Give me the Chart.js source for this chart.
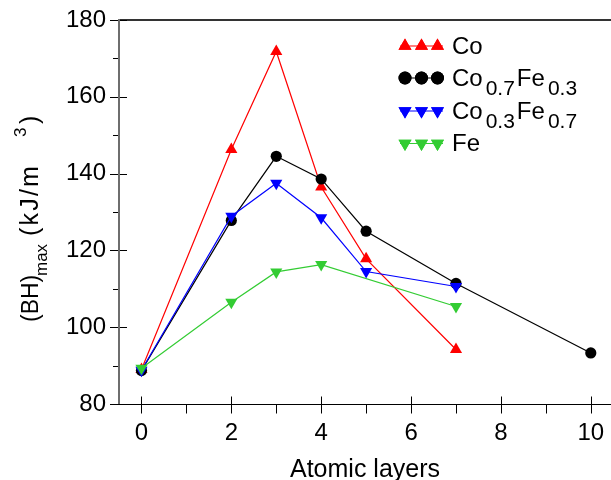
<!DOCTYPE html>
<html>
<head>
<meta charset="utf-8">
<script src="https://cdn.jsdelivr.net/npm/chart.js@4/dist/chart.umd.min.js"></script>
<style>
html,body{margin:0;padding:0;background:#fff;}
#wrap{width:611px;height:480px;position:relative;}
</style>
</head>
<body>
<div id="wrap"><canvas id="c" width="611" height="480"></canvas></div>
<script>
// ---- data ----
const coX = [0, 2, 3, 4, 5, 7];
const coY = [89.0, 146.3, 171.8, 136.5, 117.8, 94.2];
const co7X = [0, 2, 3, 4, 5, 7, 10];
const co7Y = [88.7, 127.8, 144.5, 138.6, 125.0, 111.4, 93.3];
const co3X = [0, 2, 3, 4, 5, 7];
const co3Y = [88.8, 128.9, 137.5, 128.5, 114.5, 110.6];
const feX = [0, 2, 3, 4, 7];
const feY = [89.3, 106.5, 114.4, 116.3, 105.4];
const xTicks = [0, 2, 4, 6, 8, 10];
const xMinor = [1, 3, 5, 7, 9];
const yTicks = [80, 100, 120, 140, 160, 180];
const yMinor = [90, 110, 130, 150, 170];
const xTitle = "Atomic layers";
// legend labels: [text, subscript] pieces
const legendLabels = [
  [["Co", 0]],
  [["Co", 0], ["0.7", 1], ["Fe", 0], ["0.3", 1]],
  [["Co", 0], ["0.3", 1], ["Fe", 0], ["0.7", 1]],
  [["Fe", 0]]
];

const FONT = "'Liberation Sans', Arial, sans-serif";
const pts = (xs, ys) => xs.map((x, i) => ({x: x, y: ys[i]}));

const RED = '#ff0000', BLACK = '#000000', BLUE = '#0000ff', GREEN = '#33cc33';
const styles = [
  {color: RED, style: 'triangle', rot: 0, r: 7, lr: 7.5},
  {color: BLACK, style: 'circle', rot: 0, r: 5.6, lr: 6.5},
  {color: BLUE, style: 'triangle', rot: 180, r: 7, lr: 7.5},
  {color: GREEN, style: 'triangle', rot: 180, r: 7, lr: 7.5}
];

function ds(data, i, order) {
  const s = styles[i];
  return {
    data: data, borderColor: s.color, backgroundColor: s.color, borderWidth: 1.2,
    pointStyle: s.style, rotation: s.rot, pointRadius: s.r, pointHoverRadius: s.r,
    pointBorderWidth: 0, pointBackgroundColor: s.color, pointBorderColor: s.color,
    showLine: true, tension: 0, order: order
  };
}

const axesPlugin = {
  id: 'axesPlugin',
  beforeDatasetsDraw(chart) {
    const ctx = chart.ctx, a = chart.chartArea;
    const xs = chart.scales.x, ys = chart.scales.y;
    ctx.save();
    ctx.strokeStyle = '#333';
    ctx.lineWidth = 2;
    ctx.beginPath(); ctx.moveTo(a.left, a.top); ctx.lineTo(611, a.top); ctx.stroke();
    ctx.strokeStyle = '#000';
    ctx.lineWidth = 1;
    const by = Math.round(a.bottom) + 0.5;
    ctx.beginPath(); ctx.moveTo(a.left - 9, by); ctx.lineTo(611, by); ctx.stroke();
    xTicks.forEach(v => {
      const px = Math.round(xs.getPixelForValue(v)) + 0.5;
      ctx.beginPath(); ctx.moveTo(px, by - 8); ctx.lineTo(px, by + 9); ctx.stroke();
    });
    xMinor.forEach(v => {
      const px = Math.round(xs.getPixelForValue(v)) + 0.5;
      ctx.beginPath(); ctx.moveTo(px, by); ctx.lineTo(px, by + 9); ctx.stroke();
    });
    const lx = a.left;
    yTicks.forEach(v => {
      const py = Math.round(ys.getPixelForValue(v)) + 0.5;
      ctx.beginPath(); ctx.moveTo(lx - 9, py); ctx.lineTo(lx + 8, py); ctx.stroke();
    });
    yMinor.forEach(v => {
      const py = Math.round(ys.getPixelForValue(v)) + 0.5;
      ctx.beginPath(); ctx.moveTo(lx - 6, py); ctx.lineTo(lx, py); ctx.stroke();
    });
    ctx.strokeStyle = '#6e6e6e';
    ctx.lineWidth = 2;
    ctx.beginPath(); ctx.moveTo(lx, a.top - 1); ctx.lineTo(lx, a.bottom); ctx.stroke();
    ctx.restore();
  },
  afterDraw(chart) {
    const ctx = chart.ctx, a = chart.chartArea;
    ctx.save();
    ctx.fillStyle = '#000';
    ctx.font = '25px ' + FONT;
    ctx.textAlign = 'center';
    ctx.textBaseline = 'alphabetic';
    ctx.fillText(xTitle, (a.left + 611) / 2, 477);
    // y title pieces: [text, kind(0 main,1 sub,2 sup), offset along axis, font size, letterSpacing]
    const parts = [["(BH)", 0, 0, 23, 0], ["max", 1, 46, 17, 0], ["(kJ/m", 0, 86, 25, 2.2], ["3", 2, 185, 17, 0], [")", 0, 198, 25, 0]];
    ctx.translate(38, 322);
    ctx.rotate(-Math.PI / 2);
    ctx.textAlign = 'left';
    parts.forEach(p => {
      ctx.font = p[3] + 'px ' + FONT;
      ctx.letterSpacing = p[4] + 'px';
      const dy = p[1] === 1 ? 9 : (p[1] === 2 ? -12 : 0);
      ctx.fillText(p[0], p[2], dy);
    });
    ctx.letterSpacing = '0px';
    ctx.restore();

    ctx.save();
    const rowsY = [46, 78, 111, 143.5];
    const mxs = [405, 421.5, 437.5];
    styles.forEach((s, i) => {
      const y = rowsY[i];
      ctx.strokeStyle = s.color; ctx.lineWidth = 1.2;
      ctx.beginPath(); ctx.moveTo(400, y); ctx.lineTo(443, y); ctx.stroke();
      ctx.fillStyle = s.color;
      mxs.forEach(mx => {
        Chart.helpers.drawPoint(ctx, {pointStyle: s.style, rotation: s.rot, radius: s.lr, borderWidth: 0}, mx, y);
        ctx.fill();
      });
      ctx.fillStyle = '#000';
      ctx.textAlign = 'left'; ctx.textBaseline = 'alphabetic';
      let tx = 452;
      const base = y + 7.5;
      legendLabels[i].forEach(p => {
        if (p[1]) {
          ctx.font = '21px ' + FONT;
          tx += 3;
          ctx.fillText(p[0], tx, base + 9);
          tx += ctx.measureText(p[0]).width + 2;
        } else {
          ctx.font = '24px ' + FONT;
          ctx.fillText(p[0], tx, base);
          tx += ctx.measureText(p[0]).width;
        }
      });
    });
    ctx.restore();
  }
};

Chart.defaults.font.family = FONT;
Chart.defaults.font.size = 24;
Chart.defaults.color = '#000';

new Chart(document.getElementById('c'), {
  type: 'line',
  data: {
    datasets: [
      ds(pts(coX, coY), 0, 3),
      ds(pts(co7X, co7Y), 1, 2),
      ds(pts(co3X, co3Y), 2, 1),
      ds(pts(feX, feY), 3, 0)
    ]
  },
  options: {
    responsive: false,
    animation: false,
    layout: {autoPadding: false, padding: {top: 20, right: 0, left: 0, bottom: 0}},
    plugins: {legend: {display: false}, tooltip: {enabled: false}},
    scales: {
      x: {
        type: 'linear', min: -0.5, max: 10.45,
        grid: {display: false, drawTicks: false}, border: {display: false},
        ticks: {padding: 15, font: {size: 24}, autoSkip: false, maxRotation: 0, includeBounds: false},
        afterBuildTicks: s => { s.ticks = xTicks.map(v => ({value: v})); },
        afterFit: s => { s.height = 76; s.paddingLeft = 0; s.paddingRight = 0; }
      },
      y: {
        type: 'linear', min: 80, max: 180,
        grid: {display: false, drawTicks: false}, border: {display: false},
        ticks: {padding: 13, font: {size: 24}, includeBounds: false},
        afterBuildTicks: s => { s.ticks = yTicks.map(v => ({value: v})); },
        afterFit: s => { s.width = 119; s.paddingTop = 0; s.paddingBottom = 0; }
      }
    }
  },
  plugins: [axesPlugin]
});
</script>
</body>
</html>
